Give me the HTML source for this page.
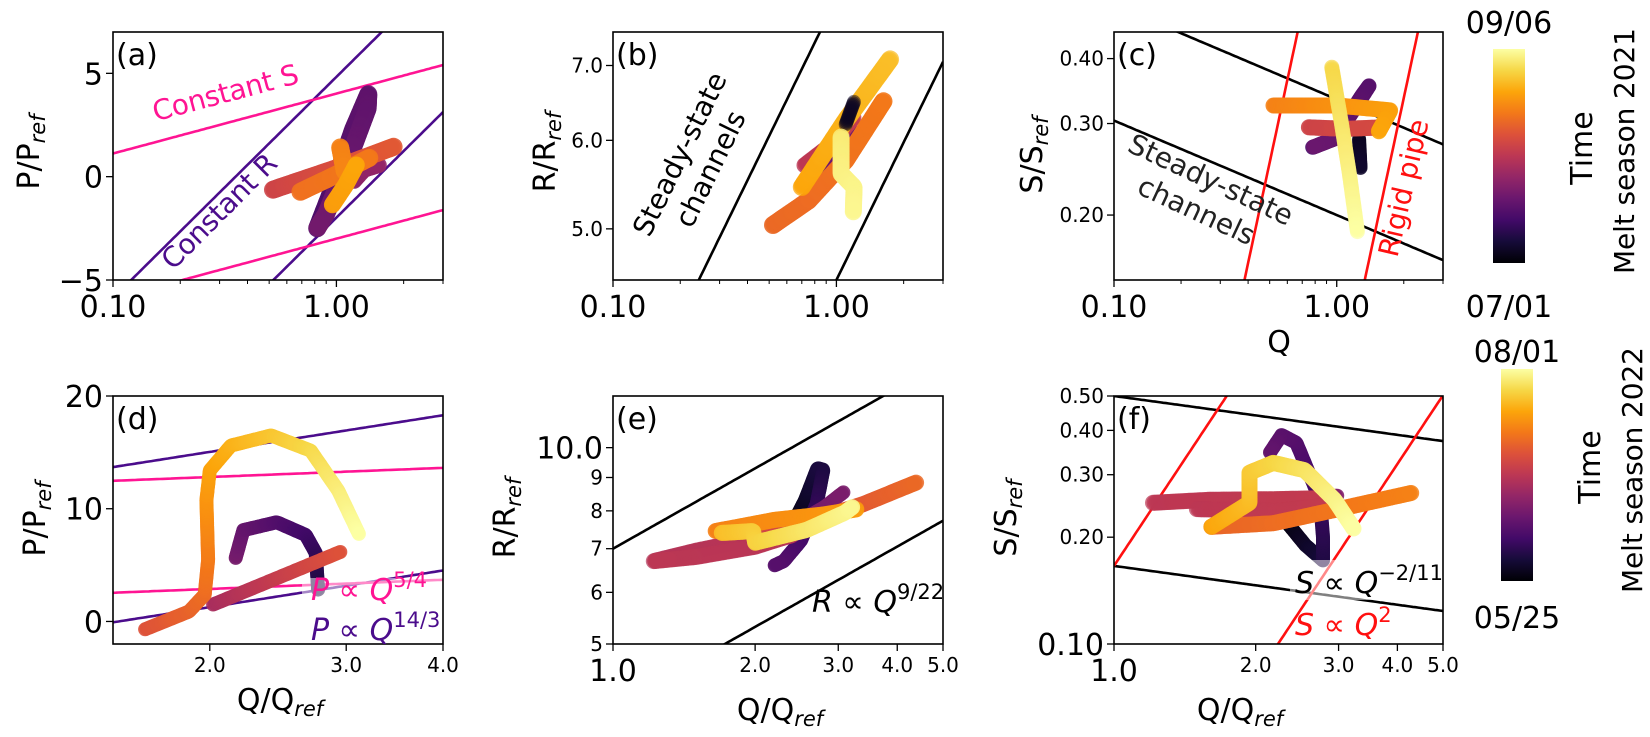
<!DOCTYPE html>
<html><head><meta charset="utf-8"><title>Hydraulic phase plots</title>
<style>
html,body{margin:0;padding:0;background:#fff;width:1650px;height:737px;overflow:hidden;}
svg{display:block;font-family:"DejaVu Sans","Liberation Sans",sans-serif;}
</style></head>
<body>
<svg id="fig" width="1650" height="737" viewBox="0 0 1650 737" xmlns="http://www.w3.org/2000/svg">
<defs>
<linearGradient id="inferno" x1="0" y1="1" x2="0" y2="0">
<stop offset="0" stop-color="#000004"/><stop offset="0.1" stop-color="#160b39"/><stop offset="0.2" stop-color="#420a68"/>
<stop offset="0.3" stop-color="#6a176e"/><stop offset="0.4" stop-color="#932667"/><stop offset="0.5" stop-color="#bc3754"/>
<stop offset="0.6" stop-color="#dd513a"/><stop offset="0.7" stop-color="#f37819"/><stop offset="0.8" stop-color="#fca50a"/>
<stop offset="0.9" stop-color="#f6d746"/><stop offset="1" stop-color="#fcffa4"/>
</linearGradient>
</defs>
</svg>
<script>
// ---------- data: panel (a) ----------
const aLoopQ=[0.82,0.96,1.19,1.39,1.38,1.13,0.90,0.82];
const aLoopP=[-2.5,-0.6,2.3,4.0,3.3,0.8,-1.8,-2.5];
const aSmallQ=[1.2,1.33,1.57];
const aSmallP=[-0.2,0.34,0.58];
const aRedQ=[0.52,0.96,1.82];
const aRedP=[-0.63,0.34,1.46];
const aOrangeQ=[0.69,1.0,1.41];
const aOrangeP=[-0.73,0.1,0.92];
const aOrShortQ=[1.04,1.09];
const aOrShortP=[1.41,0.24];
const aYelQ=[0.96,1.1,1.23];
const aYelP=[-1.36,-0.4,0.58];
const aConstRInt=[4.83,-1.98];
const aConstSInt=[4.02,-3.0];
// ---------- panel (b) ----------
const bPurpQ=[0.78,1.0,1.3];
const bPurpR=[5.6,5.9,6.1];
const bRedQ=[0.72,0.95,1.2];
const bRedR=[5.7,5.95,6.3];
const bOrangeQ=[0.52,0.75,1.10,1.63];
const bOrangeR=[5.04,5.30,5.76,6.51];
const bYoQ=[0.70,1.10,1.75];
const bYoR=[5.45,6.25,7.10];
const bDarkQ=[1.1,1.2];
const bDarkR=[6.2,6.5];
const bYelQ=[1.05,1.05,1.20,1.19];
const bYelR=[6.04,5.60,5.45,5.17];
const bSteadyCoef=[8.04,4.5];
// ---------- panel (c) ----------
const cDarkQ=[1.26,1.28];
const cDarkS=[0.28,0.245];
const cPurpQ=[0.78,0.97,1.30,1.40,1.20,0.97,0.78];
const cPurpS=[0.27,0.28,0.34,0.355,0.32,0.28,0.27];
const cRedQ=[0.75,1.1,1.6];
const cRedS=[0.295,0.293,0.295];
const cOrangeQ=[0.52,1.0,1.74,1.54];
const cOrangeS=[0.325,0.325,0.318,0.289];
const cYelQ=[0.95,1.05,1.14,1.24];
const cYelS=[0.385,0.30,0.24,0.185];
const cSteadyCoef=[0.334,0.2];
const cRigidCoef=[1.01,0.084];
// ---------- panel (d) ----------
const dPurpQ=[2.16,2.21,2.44,2.66,2.74,2.76];
const dPurpP=[5.64,8.1,8.8,7.67,6.08,2.8];
const dRedQ=[2.02,2.95];
const dRedP=[1.5,6.17];
const dBigQ=[1.65,1.88,1.97,1.99,1.98,2.0,2.13,2.40,2.70,2.93,3.12];
const dBigP=[-0.7,0.88,2.38,5.46,10.75,13.4,15.6,16.5,15.15,11.6,7.67];
const dPurpleInt=[11.79,-1.98];
const dPinkInt=[12.0,2.07];
// ---------- panel (e) ----------
const eDarkQ=[2.35,2.55,2.71,2.79,2.7,2.5,2.3,2.2];
const eDarkR=[7.4,8.3,9.3,9.25,8.2,7.2,6.7,6.6];
const ePurpQ=[2.4,2.8,3.09];
const ePurpR=[7.6,8.1,8.56];
const eRedQ=[1.22,1.5,1.9,2.4,2.0,1.5,1.22];
const eRedR=[6.7,6.95,7.2,7.35,7.05,6.8,6.7];
const eRoQ=[2.0,2.6,3.4,4.4];
const eRoR=[7.2,7.7,8.2,8.85];
const eOrQ=[1.65,2.2,2.8,3.3];
const eOrR=[7.45,7.75,7.9,8.05];
const eYelQ=[1.7,1.98,2.0,2.57,3.1,3.22];
const eYelR=[7.4,7.45,7.15,7.48,7.95,8.12];
const eSteadyCoef=[7.0,4.0];
// ---------- panel (f) ----------
const fDarkQ=[2.31,2.55,2.78];
const fDarkS=[0.223,0.19,0.172];
const fPurpQ=[2.78,2.78,2.74,2.44,2.27,2.14];
const fPurpS=[0.172,0.2,0.255,0.369,0.388,0.345];
const fPurp2Q=[2.8,3.0];
const fPurp2S=[0.26,0.262];
const fRedQ=[1.21,1.6,2.2,2.9];
const fRedS=[0.25,0.255,0.256,0.258];
const fRed2Q=[1.5,2.2,2.8];
const fRed2S=[0.24,0.237,0.245];
const fOrQ=[1.61,2.18,3.0,4.31];
const fOrS=[0.214,0.219,0.24,0.267];
const fYelQ=[1.61,1.94,1.94,2.18,2.54,2.94,3.24];
const fYelS=[0.214,0.25,0.304,0.324,0.309,0.255,0.21];
const fSteadyCoef=[0.5,0.166];
const fRigidCoef=[0.166,0.0201];
// ---------- ticks ----------
const qTicksTop=[0.1,1];
const qTickLabelsTop=["0.10","1.00"];
const qMinorTop=[0.2,0.3,0.4,0.5,0.6,0.7,0.8,0.9,2,3];
const aYTicks=[-5,0,5];
const aYLabels=["\u22125","0","5"];
const bYTicks=[5,6,7];
const bYLabels=["5.0","6.0","7.0"];
const cYTicks=[0.2,0.3,0.4];
const cYLabels=["0.20","0.30","0.40"];
const dXTicks=[2,3,4];
const dXLabels=["2.0","3.0","4.0"];
const dYTicks=[0,10,20];
const dYLabels=["0","10","20"];
const efXTicks=[2,3,4,5];
const efXLabels=["2.0","3.0","4.0","5.0"];
const eYTicks=[5,6,7,8,9];
const eYLabels=["5","6","7","8","9"];
const fYTicks=[0.2,0.3,0.4,0.5];
const fYLabels=["0.20","0.30","0.40","0.50"];

const NS='http://www.w3.org/2000/svg';
const svg=document.getElementById('fig');
function mk(tag,attrs,parent){const e=document.createElementNS(NS,tag);for(const k in attrs)e.setAttribute(k,attrs[k]);(parent||svg).appendChild(e);return e;}
const STOPS=[[0,0,4],[22,11,57],[66,10,104],[106,23,110],[147,38,103],[188,55,84],[221,81,58],[243,120,25],[252,165,10],[246,215,70],[252,255,164]];
function inferno(t){t=Math.max(0,Math.min(1,t))*10;const i=Math.min(9,Math.floor(t)),f=t-i;const a=STOPS[i],b=STOPS[i+1];
return 'rgb('+a.map((v,k)=>Math.round(v+(b[k]-v)*f)).join(',')+')';}
function scale(lo,hi,p0,p1,log){if(log){const l0=Math.log10(lo),l1=Math.log10(hi);return v=>p0+(Math.log10(v)-l0)/(l1-l0)*(p1-p0);}return v=>p0+(v-lo)/(hi-lo)*(p1-p0);}

const FONT='"DejaVu Sans","Liberation Sans",sans-serif';
function panel(id,x0,x1,y0,y1,xlog,xd,ylog,yd){
  const g=mk('g',{});
  
  
  const cp=mk('clipPath',{id:'clip-'+id},g);
  mk('rect',{x:x0,y:y0,width:x1-x0,height:y1-y0},cp);
  const plot=mk('g',{'clip-path':'url(#clip-'+id+')'},g);
  
  
  return {id,g,plot,x0,x1,y0,y1,xd,yd,sx:scale(xd[0],xd[1],x0,x1,xlog),sy:scale(yd[0],yd[1],y1,y0,ylog),xlog,ylog};
}
function curve(P,fn,color,name,w){
  const pts=[];const n=120;
  for(let i=0;i<=n;i++){const q=P.xlog?Math.pow(10,Math.log10(P.xd[0])+(Math.log10(P.xd[1])-Math.log10(P.xd[0]))*i/n):P.xd[0]+(P.xd[1]-P.xd[0])*i/n;
    const v=fn(q);if(!isFinite(v)||v<=0&&P.ylog)continue;let y=P.sy(v);y=Math.max(-2000,Math.min(3000,y));pts.push(P.sx(q).toFixed(1)+','+y.toFixed(1));}
  const l=mk('polyline',{points:pts.join(' '),fill:'none',stroke:color,'stroke-width':w||2.6},P.plot);
  
  
}
function traj(P,qs,vs,t0,t1,r,op,name){
  const g=mk('g',{'fill-opacity':op},P.plot);
  
  
  const px=qs.map((q,i)=>[P.sx(q),P.sy(vs[i])]);
  const cum=[0];for(let i=1;i<px.length;i++)cum.push(cum[i-1]+Math.hypot(px[i][0]-px[i-1][0],px[i][1]-px[i-1][1]));
  const L=cum[cum.length-1]||1;let seg=0;
  for(let s=0;s<=L+0.001;s+=1.6){
    while(seg<px.length-2&&cum[seg+1]<s)seg++;
    const sl=(cum[seg+1]-cum[seg])||1,f=Math.min(1,(s-cum[seg])/sl);
    const x=px[seg][0]+(px[seg+1][0]-px[seg][0])*f,y=px[seg][1]+(px[seg+1][1]-px[seg][1])*f;
    mk('circle',{cx:x.toFixed(1),cy:y.toFixed(1),r:r,fill:inferno(t0+(t1-t0)*s/L)},g);
  }
}
function txt(parent,x,y,str,size,opts){
  const t=mk('text',Object.assign({x:x,y:y,'font-size':size,'font-family':FONT},opts||{}),parent);
  t.textContent=str;return t;
}
function axes(P,xt,xl,xs,xmin,yt,yl,ys){
  const g=P.g;
  const fr=mk('rect',{x:P.x0,y:P.y0,width:P.x1-P.x0,height:P.y1-P.y0,fill:'none',stroke:'#000','stroke-width':1.6},g);
  
  
  xt.forEach((v,i)=>{const x=P.sx(v);mk('line',{x1:x,x2:x,y1:P.y1,y2:P.y1+7,stroke:'#000','stroke-width':1.3},g);
    const t=txt(g,x,P.y1+(xs[i]>25?37:28),xl[i],xs[i],{'text-anchor':'middle'});
    
    });
  (xmin||[]).forEach(v=>{const x=P.sx(v);mk('line',{x1:x,x2:x,y1:P.y1,y2:P.y1+4,stroke:'#000','stroke-width':1},g);});
  yt.forEach((v,i)=>{const y=P.sy(v);mk('line',{x1:P.x0-7,x2:P.x0,y1:y,y2:y,stroke:'#000','stroke-width':1.3},g);
    const t=txt(g,P.x0-10,y+(ys[i]>25?11:7),yl[i],ys[i],{'text-anchor':'end'});
    
    });
}
function ylabel(P,cx,cy,main,sub){
  const t=mk('text',{transform:'translate('+(cx+10)+','+cy+') rotate(-90)','text-anchor':'middle','font-size':30,'font-family':FONT},P.g);
  
  
  const a=mk('tspan',{},t);a.textContent=main;
  const b=mk('tspan',{'font-size':21,'font-style':'italic',dy:6},t);b.textContent=sub;
}
function xlabel(P,cx,by,main,sub){
  const t=mk('text',{x:cx,y:by,'text-anchor':'middle','font-size':30,'font-family':FONT},P.g);
  
  
  const a=mk('tspan',{},t);a.textContent=main;
  if(sub){const b=mk('tspan',{'font-size':21,'font-style':'italic',dy:6},t);b.textContent=sub;}
}
function plabel(P,s){const t=txt(P.g,P.x0+3,P.y0+33,s,30,{});
  
  }
const PURP='#4b0c8c',PINK='#ff1493',RED='#ff1010';
const L10=Math.log10;

// ===== panel a =====
const A=panel('a',113,443,32,280,true,[0.1,3],false,[-5,7]);
aConstRInt.forEach((c,i)=>curve(A,q=>10.7*L10(q)+c,PURP,'constant-r-line-'+(i+1)));
aConstSInt.forEach((c,i)=>curve(A,q=>2.9*L10(q)+c,PINK,'constant-s-line-'+(i+1)));
traj(A,aLoopQ,aLoopP,0.22,0.32,9,0.9,'trajectory-a-purple');
traj(A,aSmallQ,aSmallP,0.38,0.4,8,0.9,'trajectory-a-small');
traj(A,aRedQ,aRedP,0.55,0.62,9,0.9,'trajectory-a-red');
traj(A,aOrangeQ,aOrangeP,0.68,0.7,9,0.9,'trajectory-a-orange');
traj(A,aOrShortQ,aOrShortP,0.72,0.73,9,0.9,'trajectory-a-orange-short');
traj(A,aYelQ,aYelP,0.78,0.8,8.5,0.95,'trajectory-a-yellow');
axes(A,qTicksTop,qTickLabelsTop,[30,30],qMinorTop,aYTicks,aYLabels,[30,30,30]);
ylabel(A,29,152,'P/P','ref');plabel(A,'(a)');
{const t=txt(A.g,0,0,'Constant S',28,{fill:PINK,transform:'translate(228,102) rotate(-15)','text-anchor':'middle',textLength:150});

const u=txt(A.g,0,0,'Constant R',28,{fill:PURP,transform:'translate(226,218) rotate(-45)','text-anchor':'middle',textLength:150});
}

// ===== panel b =====
const B=panel('b',613,943,32,280,true,[0.1,3],true,[4.5,7.5]);
bSteadyCoef.forEach((c,i)=>curve(B,q=>c*Math.pow(q,9/22),'#000','steady-state-line-b-'+(i+1)));
traj(B,bPurpQ,bPurpR,0.3,0.32,8,0.85,'trajectory-b-purple');
traj(B,bRedQ,bRedR,0.5,0.52,8,0.8,'trajectory-b-red');
traj(B,bOrangeQ,bOrangeR,0.66,0.7,9,0.9,'trajectory-b-orange');
traj(B,bYoQ,bYoR,0.8,0.85,9,0.75,'trajectory-b-yellow-orange');
traj(B,bDarkQ,bDarkR,0.05,0.06,7,0.5,'trajectory-b-dark');
traj(B,bYelQ,bYelR,0.95,0.98,8.5,0.85,'trajectory-b-yellow');
axes(B,qTicksTop,qTickLabelsTop,[30,30],qMinorTop,bYTicks,bYLabels,[20,20,20]);
ylabel(B,545,152,'R/R','ref');plabel(B,'(b)');
{const t=mk('text',{transform:'translate(692,160) rotate(-64)','text-anchor':'middle','font-size':28,'font-family':FONT},B.g);

const a=mk('tspan',{x:0,y:-4},t);a.textContent='Steady-state';const b=mk('tspan',{x:0,y:30},t);b.textContent='channels';}

// ===== panel c =====
const C=panel('c',1114,1443,32,280,true,[0.1,3],true,[0.15,0.45]);
cSteadyCoef.forEach((c,i)=>curve(C,q=>c*Math.pow(q,-2/11),'#000','steady-state-line-c-'+(i+1)));
cRigidCoef.forEach((c,i)=>curve(C,q=>c*q*q,RED,'rigid-pipe-line-'+(i+1)));
traj(C,cDarkQ,cDarkS,0.05,0.08,7,0.9,'trajectory-c-dark');
traj(C,cPurpQ,cPurpS,0.2,0.3,7.5,0.9,'trajectory-c-purple');
traj(C,cRedQ,cRedS,0.55,0.57,8,0.9,'trajectory-c-red');
traj(C,cOrangeQ,cOrangeS,0.72,0.8,8,0.9,'trajectory-c-orange');
traj(C,cYelQ,cYelS,0.9,1.0,7.5,0.7,'trajectory-c-yellow');
axes(C,qTicksTop,qTickLabelsTop,[30,30],qMinorTop,cYTicks,cYLabels,[20,20,20]);
ylabel(C,1032,155,'S/S','ref');plabel(C,'(c)');xlabel(C,1279,352,'Q','');
{const t=mk('text',{transform:'translate(1205,192) rotate(25)','text-anchor':'middle','font-size':28,'font-family':FONT,fill:'#222'},C.g);

const a=mk('tspan',{x:0,y:-4},t);a.textContent='Steady-state';const b=mk('tspan',{x:0,y:30},t);b.textContent='channels';
const u=txt(C.g,0,0,'Rigid pipe',28,{fill:RED,transform:'translate(1413,190) rotate(-77)','text-anchor':'middle'});
}

// ===== panel d =====
const D=panel('d',113,443,396,644,true,[1.5,4],false,[-2,20]);
dPurpleInt.forEach((c,i)=>curve(D,q=>10.8*L10(q)+c,PURP,'purple-scaling-line-'+(i+1)));
dPinkInt.forEach((c,i)=>curve(D,q=>2.7*L10(q)+c,PINK,'pink-scaling-line-'+(i+1)));
traj(D,dPurpQ,dPurpP,0.33,0.12,7,0.95,'trajectory-d-purple');
traj(D,dRedQ,dRedP,0.45,0.6,7,0.9,'trajectory-d-red');
traj(D,dBigQ,dBigP,0.6,1.0,7,0.9,'trajectory-d-big-loop');
{const r=mk('rect',{x:302,y:578,width:141,height:28,fill:'#fff','fill-opacity':0.5},D.plot);
}
axes(D,dXTicks,dXLabels,[20,20,20],[],dYTicks,dYLabels,[30,30,30]);
ylabel(D,35,519,'P/P','ref');plabel(D,'(d)');xlabel(D,280,710,'Q/Q','ref');
function powLabel(P,x,y,sym,exp,color,name){
  const t=mk('text',{x:x,y:y,'font-size':30,'font-family':FONT,fill:color},P.g);
  
  
  const a=mk('tspan',{'font-style':'italic'},t);a.textContent=sym;
  const b=mk('tspan',{},t);b.textContent=' \u221d ';
  const c=mk('tspan',{'font-style':'italic'},t);c.textContent='Q';
  const d=mk('tspan',{'font-size':21,dy:-13},t);d.textContent=exp;
}
powLabel(D,311,600,'P','5/4',PINK,'p-q-5-4-label');
powLabel(D,311,640,'P','14/3',PURP,'p-q-14-3-label');

// ===== panel e =====
const E=panel('e',613,943,396,644,true,[1,5],true,[5,12]);
eSteadyCoef.forEach((c,i)=>curve(E,q=>c*Math.pow(q,9/22),'#000','steady-state-line-e-'+(i+1)));
traj(E,eDarkQ,eDarkR,0.02,0.25,7,0.95,'trajectory-e-dark');
traj(E,ePurpQ,ePurpR,0.32,0.34,7,0.9,'trajectory-e-purple');
traj(E,eRedQ,eRedR,0.48,0.5,8,0.7,'trajectory-e-red-loop');
traj(E,eRoQ,eRoR,0.55,0.66,8,0.85,'trajectory-e-red-orange');
traj(E,eOrQ,eOrR,0.72,0.78,8,0.9,'trajectory-e-orange');
traj(E,eYelQ,eYelR,0.85,0.98,8,0.9,'trajectory-e-yellow');
axes(E,[1].concat(efXTicks),["1.0"].concat(efXLabels),[30,20,20,20,20],[],[10].concat(eYTicks),["10.0"].concat(eYLabels),[30,20,20,20,20,20]);
ylabel(E,505,518,'R/R','ref');plabel(E,'(e)');xlabel(E,780,720,'Q/Q','ref');
powLabel(E,812,612,'R','9/22','#000','r-q-9-22-label');

// ===== panel f =====
const F=panel('f',1114,1443,396,644,true,[1,5],true,[0.1,0.5]);
fSteadyCoef.forEach((c,i)=>curve(F,q=>c*Math.pow(q,-2/11),'#000','steady-state-line-f-'+(i+1)));
fRigidCoef.forEach((c,i)=>curve(F,q=>c*q*q,RED,'rigid-pipe-line-f-'+(i+1)));
traj(F,fDarkQ,fDarkS,0.02,0.1,7,0.9,'trajectory-f-dark');
traj(F,fPurpQ,fPurpS,0.12,0.28,7,0.95,'trajectory-f-purple');
traj(F,fPurp2Q,fPurp2S,0.35,0.36,7,0.9,'trajectory-f-purple-2');
traj(F,fRedQ,fRedS,0.5,0.52,8,0.7,'trajectory-f-red');
traj(F,fRed2Q,fRed2S,0.5,0.52,8,0.7,'trajectory-f-red-2');
traj(F,fOrQ,fOrS,0.65,0.72,8,0.85,'trajectory-f-orange');
traj(F,fYelQ,fYelS,0.8,1.0,8,0.9,'trajectory-f-yellow');
{const r=mk('rect',{x:1290,y:560,width:153,height:40,fill:'#fff','fill-opacity':0.5},F.plot);
}
axes(F,[1].concat(efXTicks),["1.0"].concat(efXLabels),[30,20,20,20,20],[],[0.1].concat(fYTicks),["0.10"].concat(fYLabels),[30,20,20,20,20]);
ylabel(F,1006,518,'S/S','ref');plabel(F,'(f)');xlabel(F,1240,720,'Q/Q','ref');
powLabel(F,1295,593,'S','\u22122/11','#000','s-q-2-11-label');
powLabel(F,1295,635,'S','2',RED,'s-q-2-label');

// ===== colorbars =====
function cbar(x,y,w,h,top,bot,topY,botY,season,name){
  const g=mk('g',{});
  
  
  const r=mk('rect',{x:x,y:y,width:w,height:h,fill:'url(#inferno)'},g);
  
  
  const a=txt(g,x+w/2,topY,top,30,{'text-anchor':'middle'});
  
  const b=txt(g,x+w/2,botY,bot,30,{'text-anchor':'middle'});
  
  const c=txt(g,0,0,'Time',30,{'text-anchor':'middle',transform:'translate('+(x+99)+','+(y+h/2-8)+') rotate(-90)'});
  
  const d=txt(g,0,0,season,28,{'text-anchor':'middle',transform:'translate('+(x+141)+','+(y+h/2-5)+') rotate(-90)',textLength:246});
  
}
cbar(1493,49,32,214,'09/06','07/01',33,317,'Melt season 2021','colorbar-2021');
cbar(1501,369,32,212,'08/01','05/25',362,628,'Melt season 2022','colorbar-2022');
</script>
</body></html>
